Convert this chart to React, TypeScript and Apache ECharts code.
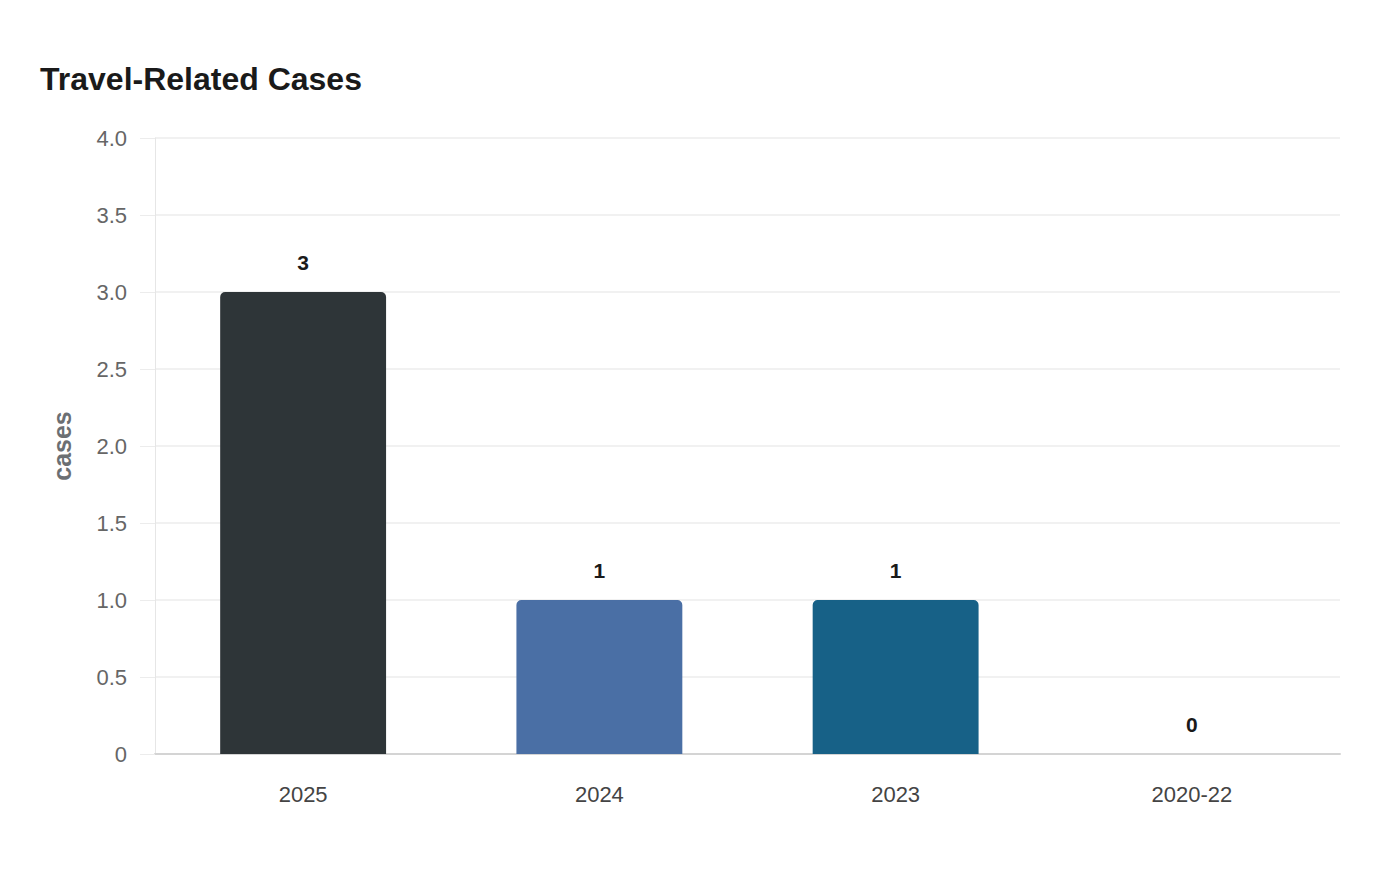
import React, { useEffect, useRef } from "react";
import * as echarts from "echarts";

const categories = ["2025", "2024", "2023", "2020-22"];
const caseCounts = [3, 1, 1, 0];
const barColors = ["#2e3538", "#4a6fa5", "#176187", "#8a9bb0"];
const yTicks = { min: 0, max: 4, interval: 0.5 };

const FONT = "'Liberation Sans', Arial, Helvetica, sans-serif";

const App = () => {
  const chartRef = useRef<HTMLDivElement>(null);

  useEffect(() => {
    document.body.style.margin = "0";
    const chart = echarts.init(chartRef.current, null, { renderer: "svg" });

    const option = {
      animation: false,
      backgroundColor: "#ffffff",
      textStyle: { fontFamily: FONT },
      title: {
        text: "Travel-Related Cases",
        left: 35,
        top: 58,
        textStyle: {
          fontFamily: FONT,
          fontSize: 32,
          fontWeight: "bold",
          color: "#1a1a1a",
        },
      },
      grid: { left: 155, right: 60, top: 138, bottom: 126 },
      xAxis: {
        type: "category",
        data: categories,
        axisLine: { lineStyle: { color: "#d4d4d4", width: 2 } },
        axisTick: { show: false },
        axisLabel: {
          color: "#444",
          fontSize: 22,
          fontFamily: FONT,
          margin: 29,
        },
      },
      yAxis: {
        type: "value",
        min: yTicks.min,
        max: yTicks.max,
        interval: yTicks.interval,
        name: "cases",
        nameLocation: "middle",
        nameRotate: 90,
        nameGap: 81,
        nameTextStyle: {
          color: "#6b6f73",
          fontSize: 25,
          fontWeight: "bold",
          fontFamily: FONT,
        },
        axisLine: { show: true, lineStyle: { color: "#e6e6e6", width: 1 } },
        axisTick: { show: true, length: 15, lineStyle: { color: "#ececec" } },
        splitLine: { lineStyle: { color: "#ececec", width: 1.5 } },
        axisLabel: {
          color: "#666",
          fontSize: 22,
          fontFamily: FONT,
          margin: 28,
          formatter: (v: number) => (v === 0 ? "0" : v.toFixed(1)),
        },
      },
      series: [
        {
          type: "bar",
          barWidth: "56%",
          data: caseCounts.map((v, i) => ({
            value: v,
            itemStyle: { color: barColors[i] },
          })),
          itemStyle: { borderRadius: [5, 5, 0, 0] },
          label: {
            show: true,
            position: "top",
            distance: 19,
            color: "#1a1a1a",
            fontSize: 21,
            fontWeight: "bold",
            fontFamily: FONT,
          },
        },
      ],
    };

    chart.setOption(option);
    return () => {
      chart.dispose();
    };
  }, []);

  return <div ref={chartRef} style={{ width: "1400px", height: "880px" }} />;
};

export default App;
